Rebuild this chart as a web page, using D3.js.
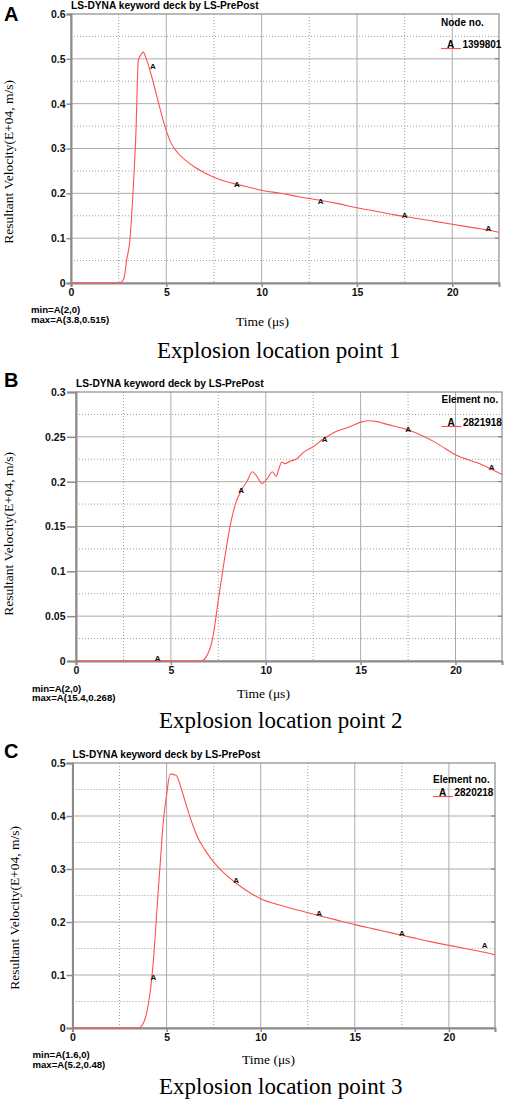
<!DOCTYPE html>
<html>
<head>
<meta charset="utf-8">
<title>Resultant velocity at three explosion points</title>
<script src="https://d3js.org/d3.v7.min.js"></script>
<style>
  html, body { margin:0; padding:0; background:#fff; }
  svg { display:block; }
  .sans { font-family: "Liberation Sans", Arial, sans-serif; font-weight: bold; }
  .serif { font-family: "Liberation Serif", "Times New Roman", serif; }
</style>
</head>
<body>
<svg id="fig"></svg>
<script>
// ---- data ----
var xTicks = [0, 5, 10, 15, 20];
var xMax = 22.45;

var timeA = [0, 2.57, 2.78, 2.92, 3.09, 3.25, 3.41, 3.53, 3.65, 3.79, 3.95, 4.3, 4.6, 4.96, 5.25, 5.6, 6.0, 6.5, 7.0, 7.5, 8.0, 8.7, 9.5, 10, 11, 12, 13, 14, 15, 16, 17, 18, 19, 20, 21, 22, 22.45];
var velA  = [0, 0, 0.011, 0.051, 0.096, 0.2, 0.341, 0.497, 0.508, 0.515, 0.5, 0.45, 0.4, 0.345, 0.312, 0.29, 0.274, 0.258, 0.246, 0.236, 0.228, 0.22, 0.212, 0.207, 0.2, 0.192, 0.185, 0.177, 0.168, 0.16, 0.152, 0.145, 0.138, 0.131, 0.124, 0.117, 0.113];

var timeB = [0, 6.6, 6.9, 7.2, 7.5, 7.8, 8.1, 8.4, 8.7, 9.0, 9.3, 9.5, 9.8, 10.1, 10.35, 10.55, 10.7, 10.85, 11.0, 11.3, 11.6, 12.0, 12.5, 13.0, 13.7, 14.4, 15.1, 15.4, 15.9, 16.2, 17.6, 19.0, 20.0, 21.4, 22.45];
var velB  = [0, 0, 0.006, 0.025, 0.068, 0.11, 0.148, 0.175, 0.19, 0.2, 0.211, 0.207, 0.198, 0.204, 0.211, 0.206, 0.215, 0.222, 0.22, 0.223, 0.225, 0.233, 0.239, 0.247, 0.256, 0.261, 0.267, 0.268, 0.267, 0.265, 0.257, 0.243, 0.23, 0.219, 0.208];

var timeC = [0, 3.5, 3.75, 3.95, 4.12, 4.3, 4.5, 4.7, 4.8, 5.0, 5.19, 5.5, 5.8, 6.1, 6.4, 6.7, 7.0, 7.5, 8.0, 8.7, 9.3, 10, 11, 12, 13, 14, 15, 16, 17, 18, 19, 20, 21, 22, 22.45];
var velC  = [0, 0, 0.008, 0.03, 0.066, 0.128, 0.23, 0.33, 0.38, 0.44, 0.479, 0.477, 0.449, 0.414, 0.382, 0.356, 0.338, 0.313, 0.294, 0.273, 0.258, 0.244, 0.232, 0.222, 0.213, 0.204, 0.195, 0.187, 0.179, 0.171, 0.163, 0.156, 0.149, 0.142, 0.138];

// "A" curve labels
var markTime = [4.3, 8.7, 13.1, 17.5, 21.9];
var markA = [0.484, 0.221, 0.183, 0.152, 0.123];
var markB = [0.003, 0.191, 0.248, 0.259, 0.216];
var markC = [0.096, 0.279, 0.217, 0.179, 0.157];

var yTicksA = [0, 0.1, 0.2, 0.3, 0.4, 0.5, 0.6];
var yTicksB = [0, 0.05, 0.1, 0.15, 0.2, 0.25, 0.3];
var yTicksC = [0, 0.1, 0.2, 0.3, 0.4, 0.5];

var panelLetters = ["A", "B", "C"];
var legendTitles = ["Node no.", "Element no.", "Element no."];
var legendIds = ["1399801", "2821918", "2820218"];
var minTexts = ["min=A(2,0)", "min=A(2,0)", "min=A(1.6,0)"];
var maxTexts = ["max=A(3.8,0.515)", "max=A(15.4,0.268)", "max=A(5.2,0.48)"];
var captions = ["Explosion location point 1", "Explosion location point 2", "Explosion location point 3"];

var chartTitle = "LS-DYNA keyword deck by LS-PrePost";
var xLabel = "Time (\u03bcs)";
var yLabel = "Resultant Velocity(E+04, m/s)";

// ---- layout (pixels) ----
var layout = [
  {left:71, right:499, top:14, bottom:283, tick:4.5, letterY:21, titleY:9,
   legX:441, legTitleY:26, legRowY:48.5, minX:31, minY:313, timeX:236, timeY:326,
   capX:157, capY:358, ylabX:12.5, ylabTop:80},
  {left:76, right:502, top:392, bottom:661, tick:9, letterY:387, titleY:387,
   legX:441.5, legTitleY:403, legRowY:426.5, minX:32, minY:691.5, timeX:237, timeY:698,
   capX:159, capY:728, ylabX:12.5, ylabTop:452},
  {left:72.5, right:495, top:763, bottom:1028, tick:6, letterY:758, titleY:758,
   legX:433, legTitleY:783, legRowY:796.5, minX:32.5, minY:1058, timeX:242, timeY:1064,
   capX:159, capY:1093.5, ylabX:19, ylabTop:826}
];

var series = [d3.zip(timeA, velA), d3.zip(timeB, velB), d3.zip(timeC, velC)];
var marks = [d3.zip(markTime, markA), d3.zip(markTime, markB), d3.zip(markTime, markC)];
var yTickSets = [yTicksA, yTicksB, yTicksC];

var red = "#ff5050";

var width = 505, height = 1099;
var svg = d3.select("#fig").attr("width", width).attr("height", height);
svg.append("rect").attr("width", width).attr("height", height).attr("fill", "#fff");

layout.forEach(function(L, i) {
  var yTicks = yTickSets[i];
  var yMax = yTicks[yTicks.length - 1];
  var yStep = yTicks[1] - yTicks[0];

  var x = d3.scaleLinear().domain([0, xMax]).range([L.left, L.right]);
  var y = d3.scaleLinear().domain([0, yMax]).range([L.bottom, L.top]);

  var g = svg.append("g");

  // minor dotted grid
  var xMinor = d3.range(2.5, xMax, 5);
  var yMinor = d3.range(yStep / 2, yMax, yStep);
  g.selectAll(".vminor").data(xMinor).enter().append("line")
    .attr("x1", d => x(d)).attr("x2", d => x(d))
    .attr("y1", L.top).attr("y2", L.bottom)
    .attr("stroke", "#a0a0a0").attr("stroke-width", 1).attr("stroke-dasharray", "1,2");
  g.selectAll(".hminor").data(yMinor).enter().append("line")
    .attr("x1", L.left).attr("x2", L.right)
    .attr("y1", d => y(d)).attr("y2", d => y(d))
    .attr("stroke", "#a0a0a0").attr("stroke-width", 1).attr("stroke-dasharray", "1,2");

  // major solid grid
  g.selectAll(".vmajor").data(xTicks.slice(1)).enter().append("line")
    .attr("x1", d => x(d)).attr("x2", d => x(d))
    .attr("y1", L.top).attr("y2", L.bottom)
    .attr("stroke", "#acacac").attr("stroke-width", 1);
  g.selectAll(".hmajor").data(yTicks.slice(1, -1)).enter().append("line")
    .attr("x1", L.left).attr("x2", L.right)
    .attr("y1", d => y(d)).attr("y2", d => y(d))
    .attr("stroke", "#acacac").attr("stroke-width", 1);

  // right-side inward ticks
  g.selectAll(".rtick").data(yTicks.slice(1, -1)).enter().append("line")
    .attr("x1", L.right - 4).attr("x2", L.right)
    .attr("y1", d => y(d)).attr("y2", d => y(d))
    .attr("stroke", "#777").attr("stroke-width", 1);

  // frame
  g.append("rect")
    .attr("x", L.left).attr("y", L.top)
    .attr("width", L.right - L.left).attr("height", L.bottom - L.top)
    .attr("fill", "none").attr("stroke", "#8c8c8c").attr("stroke-width", 1.2);

  // axes
  var yAxis = d3.axisLeft(y).tickValues(yTicks).tickSize(L.tick)
    .tickPadding(L.left - L.tick - 65.5).tickFormat(d3.format("~g"));
  var ya = g.append("g").attr("transform", "translate(" + L.left + ",0)").call(yAxis);
  ya.select(".domain").attr("stroke", "#8c8c8c").attr("stroke-width", 2);
  ya.selectAll(".tick line").attr("stroke", "#8c8c8c").attr("stroke-width", 1.5);
  ya.selectAll("text").attr("class", "sans").attr("font-size", 10.5).attr("fill", "#111");
  ya.attr("font-family", null).attr("font-size", null);

  var xAxis = d3.axisBottom(x).tickValues(xTicks).tickSize(4).tickPadding(1.5);
  var xa = g.append("g").attr("transform", "translate(0," + L.bottom + ")").call(xAxis);
  xa.select(".domain").attr("stroke", "#8c8c8c").attr("stroke-width", 2);
  xa.selectAll(".tick line").attr("stroke", "#8c8c8c").attr("stroke-width", 1.5);
  xa.selectAll("text").attr("class", "sans").attr("font-size", 10.5).attr("fill", "#111");
  xa.attr("font-family", null).attr("font-size", null);

  // curve
  var line = d3.line().x(d => x(d[0])).y(d => y(d[1])).curve(d3.curveMonotoneX);
  g.append("path").datum(series[i]).attr("d", line)
    .attr("fill", "none").attr("stroke", red).attr("stroke-width", 1.1);

  // curve labels
  g.selectAll(".mark").data(marks[i]).enter().append("text")
    .attr("class", "sans").attr("font-size", 8).attr("fill", "#111")
    .attr("text-anchor", "middle")
    .attr("x", d => x(d[0])).attr("y", d => y(d[1]) + 3)
    .text("A");

  // panel letter and chart title
  g.append("text").attr("class", "sans").attr("font-size", 20)
    .attr("x", 4).attr("y", L.letterY).text(panelLetters[i]);
  g.append("text").attr("class", "sans").attr("font-size", 10.2)
    .attr("x", L.left).attr("y", L.titleY).text(chartTitle);

  // legend
  g.append("text").attr("class", "sans").attr("font-size", 10)
    .attr("x", L.legX).attr("y", L.legTitleY).text(legendTitles[i]);
  g.append("line").attr("x1", L.legX).attr("x2", L.legX + 20)
    .attr("y1", L.legRowY).attr("y2", L.legRowY)
    .attr("stroke", red).attr("stroke-width", 1.1);
  g.append("text").attr("class", "sans").attr("font-size", 10)
    .attr("x", L.legX + 6).attr("y", L.legRowY - 0.5).text("A");
  g.append("text").attr("class", "sans").attr("font-size", 10)
    .attr("x", L.legX + 21.5).attr("y", L.legRowY - 0.5).text(legendIds[i]);

  // min / max notes
  g.append("text").attr("class", "sans").attr("font-size", 9.6)
    .attr("x", L.minX).attr("y", L.minY).text(minTexts[i]);
  g.append("text").attr("class", "sans").attr("font-size", 9.6)
    .attr("x", L.minX).attr("y", L.minY + 9.6).text(maxTexts[i]);

  // axis titles
  g.append("text").attr("class", "serif").attr("font-size", 13.5)
    .attr("x", L.timeX).attr("y", L.timeY).text(xLabel);
  g.append("text").attr("class", "serif").attr("font-size", 13.5)
    .attr("text-anchor", "end")
    .attr("transform", "translate(" + L.ylabX + "," + L.ylabTop + ") rotate(-90)")
    .text(yLabel);

  // caption
  g.append("text").attr("class", "serif").attr("font-size", 23)
    .attr("x", L.capX).attr("y", L.capY).text(captions[i]);
});
</script>
</body>
</html>
